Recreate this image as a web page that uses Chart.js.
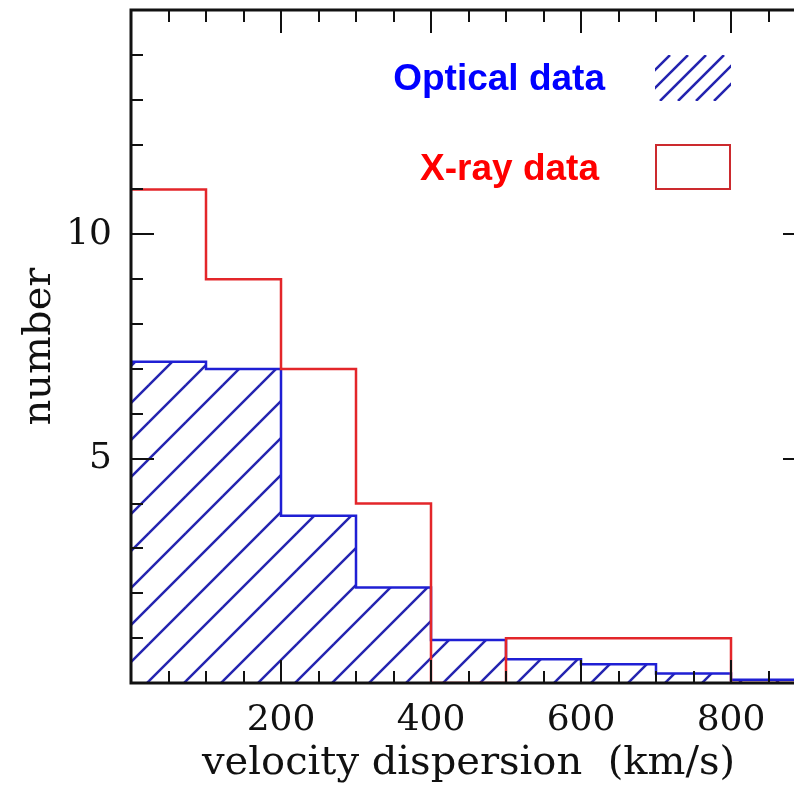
<!DOCTYPE html>
<html>
<head>
<meta charset="utf-8">
<title>velocity dispersion histogram</title>
<script src="https://cdn.jsdelivr.net/npm/chart.js@4.4.1/dist/chart.umd.min.js"></script>
<style>
  html, body { margin: 0; padding: 0; background: #fff; overflow: hidden; }
  #wrap { width: 794px; height: 787px; overflow: hidden; }
  canvas { display: block; }
</style>
</head>
<body>
<div id="wrap">
  <canvas id="my-chart" width="820" height="787"></canvas>
</div>
<script>
'use strict';

// DATA
// left edge of each 100 km/s bin, last value closes the final bin
let binEdges = [0, 100, 200, 300, 400, 500, 600, 700, 800, 900];
let xrayCounts = [11, 9, 7, 4, 0, 1, 1, 1, 0, 0];
let opticalCounts = [7.16, 7.0, 3.73, 2.13, 0.96, 0.53, 0.42, 0.21, 0.07, 0];

let xMajorTicks = [200, 400, 600, 800];
let yMajorTicks = [5, 10];

let legendNames = ['Optical data', 'X-ray data'];

// COLOURS
let blueLine = '#1f1fd4';
let hatchColor = '#2424b0';
let redLine = '#e3262a';

// CANVAS
let ctx = document.getElementById('my-chart');

// HELPER - hatch pattern for the optical histogram
function makeHatch(size, color, width) {
  let tile = document.createElement('canvas');
  tile.width = size;
  tile.height = size;
  let c = tile.getContext('2d');
  c.strokeStyle = color;
  c.lineWidth = width;
  // lines x + y = const, phased to cross the baseline like the original
  let phase = 16;
  for (let k = -1; k <= 2; k++) {
    let v = phase + k * size;
    c.beginPath();
    c.moveTo(v + 3, -3);
    c.lineTo(-3, v + 3);
    c.stroke();
  }
  return c.createPattern(tile, 'repeat');
}

function toPoints(values) {
  let pts = [];
  for (let i = 0; i < binEdges.length; i++) {
    pts.push({ x: binEdges[i], y: values[i] });
  }
  return pts;
}

// PLUGIN - boxed frame with inward ticks on all four sides
const frameTicks = {
  id: 'frameTicks',
  afterDatasetsDraw(chart) {
    let c = chart.ctx;
    let a = chart.chartArea;
    let xs = chart.scales.x;
    let ys = chart.scales.y;
    c.save();
    c.strokeStyle = '#111';
    c.lineWidth = 2;
    c.beginPath();
    xs.ticks.forEach(t => {
      let px = Math.round(xs.getPixelForValue(t.value));
      let len = t.value % 200 === 0 ? 23 : 12;
      c.moveTo(px, a.bottom); c.lineTo(px, a.bottom - len);
      c.moveTo(px, a.top); c.lineTo(px, a.top + len);
    });
    ys.ticks.forEach(t => {
      let py = Math.round(ys.getPixelForValue(t.value));
      let len = t.value % 5 === 0 ? 23 : 12;
      c.moveTo(a.left, py); c.lineTo(a.left + len, py);
      c.moveTo(a.right, py); c.lineTo(a.right - len, py);
    });
    c.stroke();
    c.lineWidth = 3;
    c.strokeRect(a.left, a.top, a.right - a.left, a.bottom - a.top);
    c.restore();
  }
};

// PLUGIN - legend drawn inside the plot, text left of its swatch
const insideLegend = {
  id: 'insideLegend',
  afterDraw(chart) {
    let c = chart.ctx;
    c.save();
    c.font = 'bold 37px "Liberation Sans", Arial, sans-serif';
    c.textAlign = 'right';
    c.textBaseline = 'alphabetic';
    c.fillStyle = '#0000ff';
    c.fillText(legendNames[0], 605, 90);
    c.fillStyle = '#ff0000';
    c.fillText(legendNames[1], 599, 180);

    // hatched swatch
    c.save();
    c.beginPath();
    c.rect(655, 55, 76, 46);
    c.clip();
    c.strokeStyle = hatchColor;
    c.lineWidth = 2.5;
    c.beginPath();
    for (let s = 670; s < 790; s += 18) {
      c.moveTo(s, 55);
      c.lineTo(s - 46, 101);
    }
    c.stroke();
    c.restore();

    // open red box
    c.strokeStyle = '#cc2a2e';
    c.lineWidth = 2;
    c.strokeRect(656, 145, 74, 44);
    c.restore();
  }
};

// CHART
let chartObj = {
  type: 'line',
  data: {
    datasets: [
      {
        label: legendNames[1],
        data: toPoints(xrayCounts),
        stepped: 'before',
        borderColor: redLine,
        borderWidth: 2.5,
        pointRadius: 0,
        fill: false
      },
      {
        label: legendNames[0],
        data: toPoints(opticalCounts),
        stepped: 'before',
        borderColor: blueLine,
        borderWidth: 2.5,
        pointRadius: 0,
        fill: 'origin',
        backgroundColor: makeHatch(37, hatchColor, 2.5)
      }
    ]
  },
  options: {
    responsive: false,
    animation: false,
    devicePixelRatio: 1,
    layout: { autoPadding: false, padding: { top: 10, right: 14, left: 0, bottom: 0 } },
    plugins: {
      legend: { display: false },
      tooltip: { enabled: false }
    },
    scales: {
      x: {
        type: 'linear',
        min: 0,
        max: 900,
        grid: { display: false, drawTicks: false },
        border: { display: false },
        ticks: {
          stepSize: 50,
          autoSkip: false,
          maxRotation: 0,
          padding: 16,
          color: '#111',
          font: { family: '"DejaVu Serif", serif', size: 36 },
          callback: v => (xMajorTicks.includes(v) ? String(v) : '')
        },
        title: {
          display: true,
          text: 'velocity dispersion  (km/s)',
          color: '#111',
          font: { family: '"DejaVu Serif", serif', size: 40, lineHeight: 0.95 }
        },
        afterFit(scale) {
          scale.height = 104;
          scale.paddingLeft = 0;
          scale.paddingRight = 0;
        }
      },
      y: {
        min: 0,
        max: 15,
        grid: { display: false, drawTicks: false },
        border: { display: false },
        ticks: {
          stepSize: 1,
          autoSkip: false,
          padding: 19,
          color: '#111',
          font: { family: '"DejaVu Serif", serif', size: 36 },
          callback: v => (yMajorTicks.includes(v) ? String(v) : '')
        },
        title: {
          display: true,
          text: 'number',
          color: '#111',
          font: { family: '"DejaVu Serif", serif', size: 40, lineHeight: 1.8 }
        },
        afterFit(scale) {
          scale.width = 131;
          scale.paddingTop = 0;
          scale.paddingBottom = 0;
        }
      }
    }
  },
  plugins: [frameTicks, insideLegend]
};

new Chart(ctx, chartObj);
</script>
</body>
</html>
